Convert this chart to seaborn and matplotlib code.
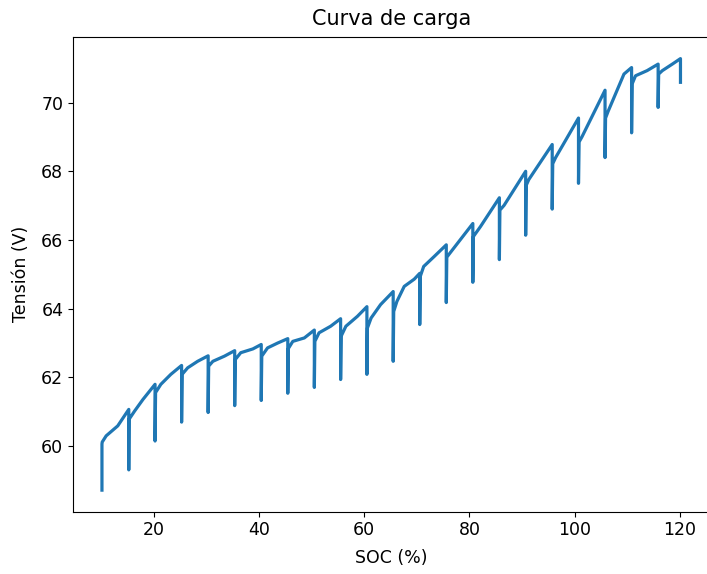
import matplotlib
matplotlib.use("Agg")
import matplotlib.pyplot as plt
import seaborn as sns
import pandas as pd

# SOC (%), point by point along the charge curve
soc = [
    10.1, 10.1, 10.15, 10.9, 13.1, 15.2,
    15.2, 15.25, 16.3, 17.9, 20.2,
    20.2, 20.3, 21.3, 23.2, 25.25,
    25.25, 25.35, 26.4, 28.3, 30.3,
    30.3, 30.4, 31.2, 33.4, 35.35,
    35.35, 35.45, 36.5, 38.8, 40.4,
    40.4, 40.5, 41.6, 43.5, 45.45,
    45.45, 45.55, 46.4, 48.6, 50.5,
    50.5, 50.6, 51.4, 53.6, 55.5,
    55.5, 55.6, 56.5, 58.7, 60.5,
    60.5, 60.6, 61.3, 63.1, 65.5,
    65.5, 65.6, 66.2, 67.6, 69.5, 70.55,
    70.55, 70.65, 71.3, 73.3, 75.6,
    75.6, 75.7, 76.3, 80.65,
    80.65, 80.75, 82.1, 85.7,
    85.7, 85.8, 86.6, 90.7,
    90.7, 90.8, 91.3, 95.75,
    95.75, 95.85, 96.4, 100.75,
    100.75, 100.85, 101.4, 105.8,
    105.8, 105.9, 106.4, 109.4, 110.85,
    110.85, 110.95, 111.6, 113.8, 115.9,
    115.9, 116.0, 116.7, 118.6, 120.15,
    120.15,
]

# Tensión (V), matching the SOC points above
tension = [
    58.72, 60.06, 60.12, 60.30, 60.59, 61.07,
    59.31, 60.78, 61.02, 61.36, 61.80,
    60.15, 61.56, 61.80, 62.09, 62.35,
    60.70, 62.09, 62.28, 62.47, 62.63,
    60.98, 62.33, 62.47, 62.62, 62.78,
    61.18, 62.52, 62.72, 62.83, 62.96,
    61.33, 62.62, 62.86, 63.00, 63.13,
    61.54, 62.84, 63.05, 63.15, 63.38,
    61.71, 63.05, 63.30, 63.49, 63.71,
    61.94, 63.20, 63.49, 63.78, 64.06,
    62.09, 63.44, 63.73, 64.12, 64.50,
    62.47, 63.92, 64.21, 64.65, 64.86, 65.03,
    63.54, 64.94, 65.23, 65.52, 65.86,
    64.18, 65.50, 65.62, 66.48,
    64.77, 66.10, 66.39, 67.23,
    65.43, 66.87, 67.01, 68.00,
    66.14, 67.59, 67.76, 68.78,
    66.90, 68.22, 68.40, 69.55,
    67.65, 68.85, 69.00, 70.36,
    68.40, 69.55, 69.75, 70.83, 71.02,
    69.12, 70.54, 70.78, 70.93, 71.12,
    69.86, 70.83, 70.93, 71.12, 71.28,
    70.59,
]

df = pd.DataFrame({"SOC (%)": soc, "Tensión (V)": tension})

fig = plt.figure(figsize=(7.07, 5.74), dpi=100)
ax = fig.add_axes([0.1033, 0.1085, 0.9001, 0.8270])

sns.lineplot(data=df, x="SOC (%)", y="Tensión (V)", sort=False,
             estimator=None, color="#1f77b4", linewidth=2.3, ax=ax)

ax.set_title("Curva de carga", fontsize=15, pad=9)
ax.set_xlabel("SOC (%)", fontsize=12.5, labelpad=7)
ax.set_ylabel("Tensión (V)", fontsize=12.5, labelpad=8)
ax.tick_params(labelsize=12.5)
ax.set_xticks([20, 40, 60, 80, 100, 120])
ax.set_yticks([60, 62, 64, 66, 68, 70])

fig.savefig("out.png", dpi=100)
